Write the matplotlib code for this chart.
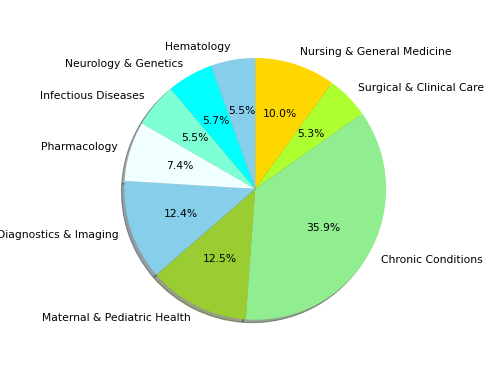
import matplotlib
matplotlib.use("Agg")
import matplotlib.pyplot as plt

labels = ["Nursing & General Medicine", "Surgical & Clinical Care", "Chronic Conditions",
          "Maternal & Pediatric Health", "Diagnostics & Imaging", "Pharmacology",
          "Infectious Diseases", "Neurology & Genetics", "Hematology"]
values = [10.0, 5.3, 36.0, 12.5, 12.4, 7.4, 5.5, 5.7, 5.5]
colors = ["gold", "greenyellow", "lightgreen", "yellowgreen", "skyblue", "azure",
          "aquamarine", "cyan", "skyblue"]

dpi = 498 / 6.4
fig, ax = plt.subplots(figsize=(6.4, 374 / dpi), dpi=dpi)
ax.pie(values, labels=labels, colors=colors, autopct="%1.1f%%", startangle=90,
       counterclock=False, shadow=True)
ax.axis("equal")
fig.savefig("out.png", dpi=dpi)
